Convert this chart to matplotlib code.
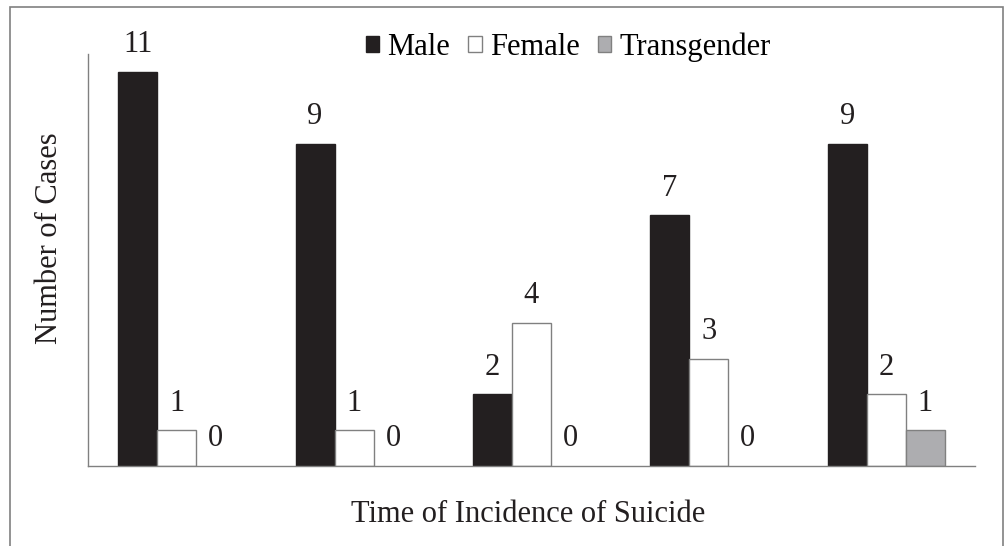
import matplotlib
matplotlib.use("Agg")
import matplotlib.pyplot as plt
from matplotlib.patches import Rectangle, Patch
import numpy as np

plt.rcParams['font.family'] = ['Liberation Serif', 'DejaVu Serif']

groups = ["G1", "G2", "G3", "G4", "G5"]
series = ["Male", "Female", "Transgender"]
male = [11, 9, 2, 7, 9]
female = [1, 1, 4, 3, 2]
transgender = [0, 0, 0, 0, 1]

fills = ["#231f20", "#ffffff", "#adadb0"]
edges = ["#231f20", "#808080", "#808080"]

fig = plt.figure(figsize=(10.07, 5.46), dpi=100)
fig.patch.set_facecolor("white")
# outer frame
fig.patches.append(Rectangle((10/1007, -0.1), (1003-10)/1007, 1.1 - 7/546,
                             transform=fig.transFigure, fill=False,
                             edgecolor="#808080", linewidth=1.2))

ax = fig.add_axes([88/1007, 1-466/546, (975-88)/1007, (466-54)/546])
x = np.arange(len(groups))
w = 0.22
data = [male, female, transgender]
for k, vals in enumerate(data):
    pos = x + (k - 1) * w
    lws = [1.0 if v > 0 else 0 for v in vals]
    ax.bar(pos, vals, width=w, color=fills[k], edgecolor=edges[k], linewidth=lws,
           label=series[k])
    for p, v in zip(pos, vals):
        ax.text(p, v + 0.35, str(v), ha="center", va="bottom", fontsize=22,
                color="#231f20")

ax.set_xlim(-0.5, 4.5)
ax.set_ylim(0, 11.5)
ax.set_xticks([])
ax.set_yticks([])
for s in ["top", "right"]:
    ax.spines[s].set_visible(False)
for s in ["left", "bottom"]:
    ax.spines[s].set_color("#808080")
    ax.spines[s].set_linewidth(1.0)

handles = [Patch(facecolor=fills[k], edgecolor=edges[k], label=series[k]) for k in range(3)]
fig.legend(handles=handles, loc="center", bbox_to_anchor=(568/1007, 1-47/546),
           ncol=3, frameon=False, fontsize=22, handlelength=0.45, handleheight=0.45,
           handletextpad=0.25, columnspacing=0.6, borderpad=0)

fig.text(50/1007, 1-238/546, "Number of Cases", rotation=90, ha="center", va="center",
         fontsize=22, color="#231f20")
fig.text(528/1007, 1-514/546, "Time of Incidence of Suicide", ha="center", va="center",
         fontsize=22, color="#231f20")

fig.savefig("out.png", dpi=100, facecolor="white")
